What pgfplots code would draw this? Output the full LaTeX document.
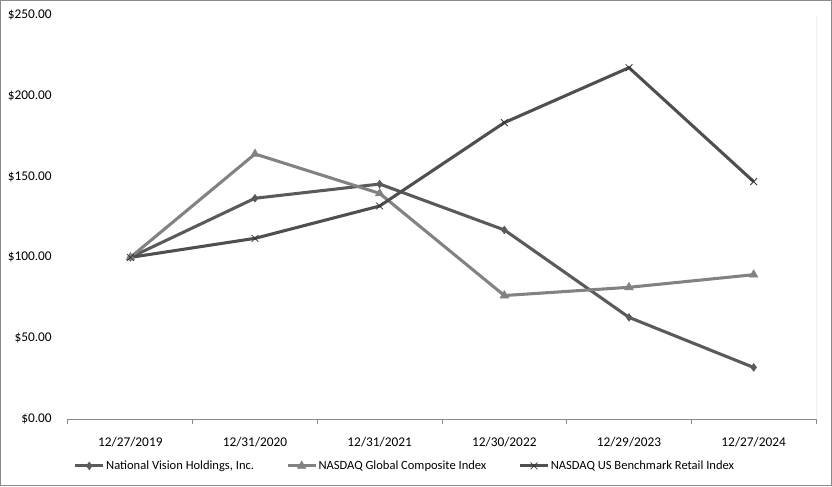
\documentclass[border=0pt]{standalone}
\usepackage{fontspec}
\setmainfont{Carlito}
\usepackage{pgfplots}
\pgfplotsset{compat=1.18}
\definecolor{nv}{HTML}{5A5A5A}
\definecolor{gc}{HTML}{828282}
\definecolor{br}{HTML}{4F4F4F}
\definecolor{ax}{HTML}{898989}
\begin{document}
\begin{tikzpicture}[x=1pt,y=1pt]
\useasboundingbox (-51,-50.25) rectangle (573,314.25);
\draw[ax, line width=1.1pt] (-50.45,-49.7) rectangle (572.45,313.7);
\begin{axis}[
  at={(0,0)}, anchor=south west,
  scale only axis, width=561pt, height=303pt,
  xmin=-0.5, xmax=5.5, ymin=0, ymax=250,
  axis x line*=bottom, axis y line*=left,
  y axis line style={draw=none},
  x axis line style={draw=ax, line width=0.75pt, -},
  xtick={0,1,2,3,4,5},
  xticklabels={12/27/2019,12/31/2020,12/31/2021,12/30/2022,12/29/2023,12/27/2024},
  major x tick style={draw=none},
  minor xtick={-0.5,0.5,1.5,2.5,3.5,4.5,5.5},
  minor x tick style={draw=ax, line width=0.75pt},
  minor tick length=3.5pt,
  xtick align=outside,
  ytick={0,50,100,150,200,250},
  yticklabels={\$0.00,\$50.00,\$100.00,\$150.00,\$200.00,\$250.00},
  major y tick style={draw=none},
  yticklabel style={anchor=east, inner sep=0pt, xshift=-12pt},
  xticklabel style={anchor=north, inner sep=0pt, yshift=-9.5pt},
  tick label style={font=\fontsize{10pt}{12pt}\selectfont, text=black},
  legend columns=3,
  legend style={draw=none, fill=none, at={(axis description cs:0.450,-0.116)}, anchor=center,
    font=\fontsize{9.4pt}{11pt}\selectfont, inner sep=0pt,
    /tikz/every even column/.append style={column sep=23pt},
    nodes={inner sep=1pt}},
  legend image code/.code={\draw[mark repeat=2,mark phase=2] plot coordinates {(0pt,0pt)(10.5pt,0pt)(21pt,0pt)};},
]
\addplot[nv, line width=2.3pt, mark=diamond*, mark size=2.9pt, mark options={solid, line width=0.4pt}]
  table {
x y
0 100.0
1 136.6
2 145.4
3 117.0
4 62.9
5 31.9
};
\addlegendentry{National Vision Holdings, Inc.}
\addplot[gc, line width=2.3pt, mark=triangle*, mark size=3.7pt, mark options={solid, line width=0.4pt}]
  table {
x y
0 100.0
1 164.0
2 139.6
3 76.4
4 81.5
5 89.3
};
\addlegendentry{NASDAQ Global Composite Index}
\addplot[br, line width=2.3pt, mark=x, mark size=3.6pt, mark options={solid, line width=0.6pt, draw=black!80}]
  table {
x y
0 100.0
1 111.8
2 131.8
3 183.4
4 217.4
5 146.9
};
\addlegendentry{NASDAQ US Benchmark Retail Index}
\draw[ax, line width=0.75pt] (rel axis cs:1,0) -- (rel axis cs:1,1);
\end{axis}
\end{tikzpicture}
\end{document}
